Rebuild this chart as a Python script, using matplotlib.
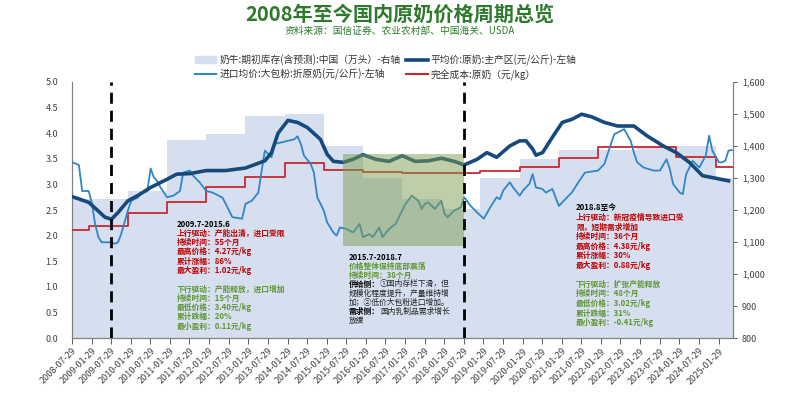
import pandas as pd
import matplotlib
matplotlib.use('Agg')
import matplotlib.pyplot as plt
import matplotlib.patches as mpatches
from matplotlib.lines import Line2D
from matplotlib.ticker import FuncFormatter

plt.rcParams['font.family'] = ['Noto Sans CJK SC', 'DejaVu Sans']
plt.rcParams['axes.unicode_minus'] = False

# 奶牛期初库存（万头），按年，右轴
cow_years = [2008, 2009, 2010, 2011, 2012, 2013, 2014, 2015, 2016,
             2017, 2018, 2019, 2020, 2021, 2022, 2023, 2024, 2025]
cow_stock = [1234, 1234, 1259, 1419, 1437, 1494, 1500, 1400, 1300,
             1234, 1203, 1300, 1359, 1388, 1388, 1400, 1400, 1300]
# 完全成本（元/kg），按年，左轴
full_cost = [2.10, 2.19, 2.45, 2.65, 2.94, 3.14, 3.41, 3.29, 3.25,
             3.23, 3.22, 3.27, 3.34, 3.51, 3.73, 3.73, 3.53, 3.33]

# 平均价：原奶：主产区（元/公斤）
avg_months = ['2008-08', '2009-01', '2009-06', '2009-08', '2009-10', '2010-01', '2010-04',
              '2010-08', '2011-01', '2011-04', '2011-08', '2012-01', '2012-07', '2013-01',
              '2013-07', '2013-09', '2013-11', '2014-02', '2014-05', '2014-08', '2014-12',
              '2015-02', '2015-04', '2015-07', '2015-10', '2016-01', '2016-05', '2016-09',
              '2017-01', '2017-05', '2017-09', '2018-01', '2018-05', '2018-08', '2018-12',
              '2019-03', '2019-06', '2019-10', '2020-01', '2020-03', '2020-05', '2020-06',
              '2020-08', '2020-11', '2021-02', '2021-05', '2021-08', '2021-11', '2022-03',
              '2022-07', '2022-12', '2023-04', '2023-09', '2024-01', '2024-05', '2024-09',
              '2025-01', '2025-05']
avg_price = [2.76, 2.65, 2.36, 2.32, 2.45, 2.68, 2.78,
             2.94, 3.10, 3.20, 3.21, 3.27, 3.27, 3.32,
             3.46, 3.62, 4.00, 4.25, 4.21, 4.11, 3.88,
             3.59, 3.45, 3.43, 3.49, 3.58, 3.49, 3.45,
             3.56, 3.45, 3.46, 3.51, 3.45, 3.38, 3.49,
             3.62, 3.53, 3.75, 3.85, 3.85, 3.69, 3.57,
             3.62, 3.92, 4.21, 4.27, 4.37, 4.32, 4.21,
             4.14, 4.14, 3.95, 3.75, 3.62, 3.43, 3.17,
             3.12, 3.07]

# 进口均价：大包粉：折原奶（元/公斤）
imp_months = ['2008-08', '2008-10', '2008-11', '2009-01', '2009-02', '2009-03', '2009-04',
              '2009-05', '2009-08', '2009-09', '2009-10', '2009-11', '2010-01', '2010-02',
              '2010-04', '2010-05', '2010-07', '2010-08', '2010-09', '2010-10', '2010-11',
              '2011-01', '2011-03', '2011-05', '2011-06', '2011-08', '2011-09', '2011-11',
              '2012-01', '2012-03', '2012-06', '2012-07', '2012-09', '2012-12', '2013-01',
              '2013-03', '2013-05', '2013-06', '2013-07', '2013-09', '2013-10', '2013-12',
              '2014-02', '2014-04', '2014-05', '2014-06', '2014-07', '2014-09', '2014-10',
              '2014-11', '2015-01', '2015-02', '2015-04', '2015-05', '2015-06', '2015-08',
              '2015-10', '2015-12', '2016-01', '2016-03', '2016-04', '2016-06', '2016-07',
              '2016-09', '2016-11', '2017-01', '2017-02', '2017-04', '2017-06', '2017-07',
              '2017-08', '2017-09', '2017-11', '2018-01', '2018-02', '2018-03', '2018-05',
              '2018-07', '2018-08', '2018-10', '2018-12', '2019-02', '2019-04', '2019-06',
              '2019-07', '2019-08', '2019-10', '2019-11', '2020-01', '2020-02', '2020-04',
              '2020-05', '2020-06', '2020-08', '2020-09', '2020-11', '2021-01', '2021-03',
              '2021-05', '2021-07', '2021-09', '2022-01', '2022-03', '2022-05', '2022-06',
              '2022-07', '2022-09', '2022-11', '2022-12', '2023-01', '2023-03', '2023-06',
              '2023-08', '2023-10', '2023-11', '2023-12', '2024-02', '2024-03', '2024-04',
              '2024-06', '2024-08', '2024-10', '2024-11', '2024-12', '2025-02', '2025-03',
              '2025-04', '2025-05', '2025-06']
imp_price = [3.43, 3.38, 2.87, 2.87, 2.62, 2.23, 1.97,
             1.87, 1.87, 1.84, 1.87, 2.04, 2.49, 2.68,
             2.74, 2.82, 2.87, 3.31, 3.13, 3.07, 2.94,
             2.75, 2.78, 2.87, 3.23, 3.27, 3.17, 3.04,
             2.87, 2.84, 2.74, 2.62, 2.36, 2.33, 2.62,
             2.68, 2.84, 3.27, 3.66, 3.53, 3.79, 3.82,
             3.85, 3.88, 3.94, 3.79, 3.56, 3.40, 3.23,
             2.75, 2.49, 2.26, 2.06, 2.00, 2.16, 2.13,
             2.06, 2.23, 1.97, 2.03, 1.97, 2.16, 1.97,
             2.13, 2.23, 2.49, 2.62, 2.78, 2.68, 2.52,
             2.62, 2.65, 2.52, 2.68, 2.42, 2.36, 2.49,
             2.55, 2.75, 2.58, 2.45, 2.33, 2.55, 2.75,
             2.71, 2.88, 3.04, 2.94, 2.78, 2.88, 3.01,
             3.20, 2.94, 2.91, 2.84, 2.91, 2.58, 2.71,
             2.84, 3.04, 3.23, 3.27, 3.40, 3.79, 3.98,
             4.01, 4.08, 3.85, 3.62, 3.43, 3.33, 3.27,
             3.27, 3.49, 3.30, 3.01, 2.84, 2.81, 3.20,
             3.46, 3.33, 3.56, 3.95, 3.66, 3.43, 3.43,
             3.46, 3.66, 3.67]

tick_labels = [f'{y}-{m}-29' for y in range(2008, 2026) for m in ('01', '07')][1:-1]
cycle_breaks = ['2009-07-29', '2018-07-29']

x_start = pd.Timestamp('2008-07-29')
x_end = pd.Timestamp('2025-06-10')

c_cow = '#d5dff0'
c_avg = '#174a7c'
c_imp = '#2f86c6'
c_cost = '#c8282e'
c_red = '#c00000'
c_green = '#5e9632'

fig = plt.figure(figsize=(8, 3.94), dpi=100)
ax = fig.add_axes((0.09, 0.142, 0.826, 0.650))
ax2 = ax.twinx()
ax.set_zorder(ax2.get_zorder() + 1)
ax.patch.set_visible(False)

# 存栏阶梯面积（右轴）
edges = [x_start] + [pd.Timestamp(f'{y}-01-01') for y in cow_years[1:]] + [x_end]
ax2.fill_between(edges, cow_stock + [cow_stock[-1]], 800, step='post',
                 color=c_cow, linewidth=0)
ax2.set_ylim(800, 1600)
ax2.set_yticks(range(800, 1601, 100))
ax2.yaxis.set_major_formatter(FuncFormatter(lambda v, p: f'{v:,.0f}'))

# 完全成本、平均价、进口均价（左轴）
ax.step(edges, full_cost + [full_cost[-1]], where='post', color=c_cost, lw=1.3, zorder=3)
ax.plot(pd.to_datetime(imp_months), imp_price, color=c_imp, lw=1.3, zorder=4)
ax.plot(pd.to_datetime(avg_months), avg_price, color=c_avg, lw=2.6, zorder=5)

# 2015.7-2018.7 底部震荡区间
ax.add_patch(mpatches.Rectangle((pd.Timestamp('2015-07-01'), 1.8),
                                pd.Timestamp('2018-07-29') - pd.Timestamp('2015-07-01'), 1.8,
                                facecolor='#7f9f52', alpha=0.5, edgecolor='none', zorder=6))

for d in cycle_breaks:
    ax.axvline(pd.Timestamp(d), color='black', lw=2, ls=(0, (4, 2.5)), zorder=7)

ax.set_xlim(x_start, x_end)
ax.set_ylim(0, 5)
ax.set_yticks([i * 0.5 for i in range(11)])
ax.yaxis.set_major_formatter(FuncFormatter(lambda v, p: f'{v:.1f}'))
ax.set_xticks(pd.to_datetime(tick_labels))
ax.set_xticklabels(tick_labels, rotation=45, ha='right', rotation_mode='anchor', fontsize=6.3)

for a in (ax, ax2):
    for s in a.spines.values():
        s.set_color('#808080')
        s.set_linewidth(0.8)
    a.spines['top'].set_visible(False)
    a.tick_params(colors='#404040', labelsize=6.5, length=3, width=0.6)
ax.tick_params(axis='x', length=4, pad=2)
ax.tick_params(axis='y', length=0, pad=10)

# 标题
fig.text(0.5, 1 - 14 / 394, '2008年至今国内原奶价格周期总览', ha='center', va='center',
         fontsize=14.5, fontweight='bold', color='#2e7a2c')
fig.text(0.5, 1 - 31 / 394, '资料来源：国信证券、农业农村部、中国海关、USDA', ha='center', va='center',
         fontsize=7, style='italic', color='#2e7a2c')

handles = [mpatches.Patch(color=c_cow),
           Line2D([], [], color=c_imp, lw=1.5),
           Line2D([], [], color=c_avg, lw=2.6),
           Line2D([], [], color=c_cost, lw=1.5)]
labels = ['奶牛:期初库存(含预测):中国（万头）-右轴',
          '进口均价:大包粉:折原奶(元/公斤)-左轴',
          '平均价:原奶:主产区(元/公斤)-左轴',
          '完全成本:原奶（元/kg）']
fig.legend(handles, labels, ncol=2, loc='center', bbox_to_anchor=(0.482, 1 - 67 / 394),
           frameon=False, fontsize=7, handlelength=2.2, handletextpad=0.3,
           columnspacing=0.6, labelspacing=0.3, labelcolor='#333333')

# 周期注释：(文字, 颜色, 加粗前缀)
blocks = [
    (177, 224, 9.3, [
        ('2009.7-2015.6', 'black', ''),
        ('上行驱动：产能出清，进口受限', c_red, ''),
        ('持续时间：55个月', c_red, ''),
        ('最高价格：4.27元/kg', c_red, ''),
        ('累计涨幅：86%', c_red, ''),
        ('最大盈利：1.02元/kg', c_red, ''),
        ('', c_red, ''),
        ('下行驱动：产能释放，进口增加', c_green, ''),
        ('持续时间：15个月', c_green, ''),
        ('最低价格：3.40元/kg', c_green, ''),
        ('累计跌幅：20%', c_green, ''),
        ('最小盈利：0.11元/kg', c_green, '')]),
    (349, 257, 9.15, [
        ('2015.7-2018.7', 'black', ''),
        ('价格整体保持底部震荡', c_green, ''),
        ('持续时间：38个月', c_green, ''),
        ('①国内存栏下滑，但', '#222222', '供给侧：'),
        ('规模化程度提升，产量维持增', '#222222', ''),
        ('加；②低价大包粉进口增加。', '#222222', ''),
        ('国内乳制品需求增长', '#222222', '需求侧：'),
        ('放缓', '#222222', '')]),
    (576, 208, 9.55, [
        ('2018.8至今', 'black', ''),
        ('上行驱动：新冠疫情导致进口受', c_red, ''),
        ('限，短期需求增加', c_red, ''),
        ('持续时间：36个月', c_red, ''),
        ('最高价格：4.38元/kg', c_red, ''),
        ('累计涨幅：30%', c_red, ''),
        ('最大盈利：0.88元/kg', c_red, ''),
        ('', c_red, ''),
        ('下行驱动：扩张产能释放', c_green, ''),
        ('持续时间：48个月', c_green, ''),
        ('最低价格：3.02元/kg', c_green, ''),
        ('累计跌幅：31%', c_green, ''),
        ('最小盈利：-0.41元/kg', c_green, '')]),
]
fs = 5.6
renderer = fig.canvas.get_renderer()
for bx, by, dy, lines in blocks:
    for i, (txt, col, prefix) in enumerate(lines):
        y = 1 - (by + i * dy) / 394
        x = bx / 800
        if prefix:
            t = fig.text(x, y, prefix, ha='left', va='center', fontsize=fs,
                         color='black', fontweight='bold')
            x = fig.transFigure.inverted().transform(
                (t.get_window_extent(renderer).x1, 0))[0]
        fig.text(x, y, txt, ha='left', va='center', fontsize=fs, color=col,
                 fontweight='normal' if col == '#222222' else 'bold')

fig.savefig('out.png', dpi=100)
